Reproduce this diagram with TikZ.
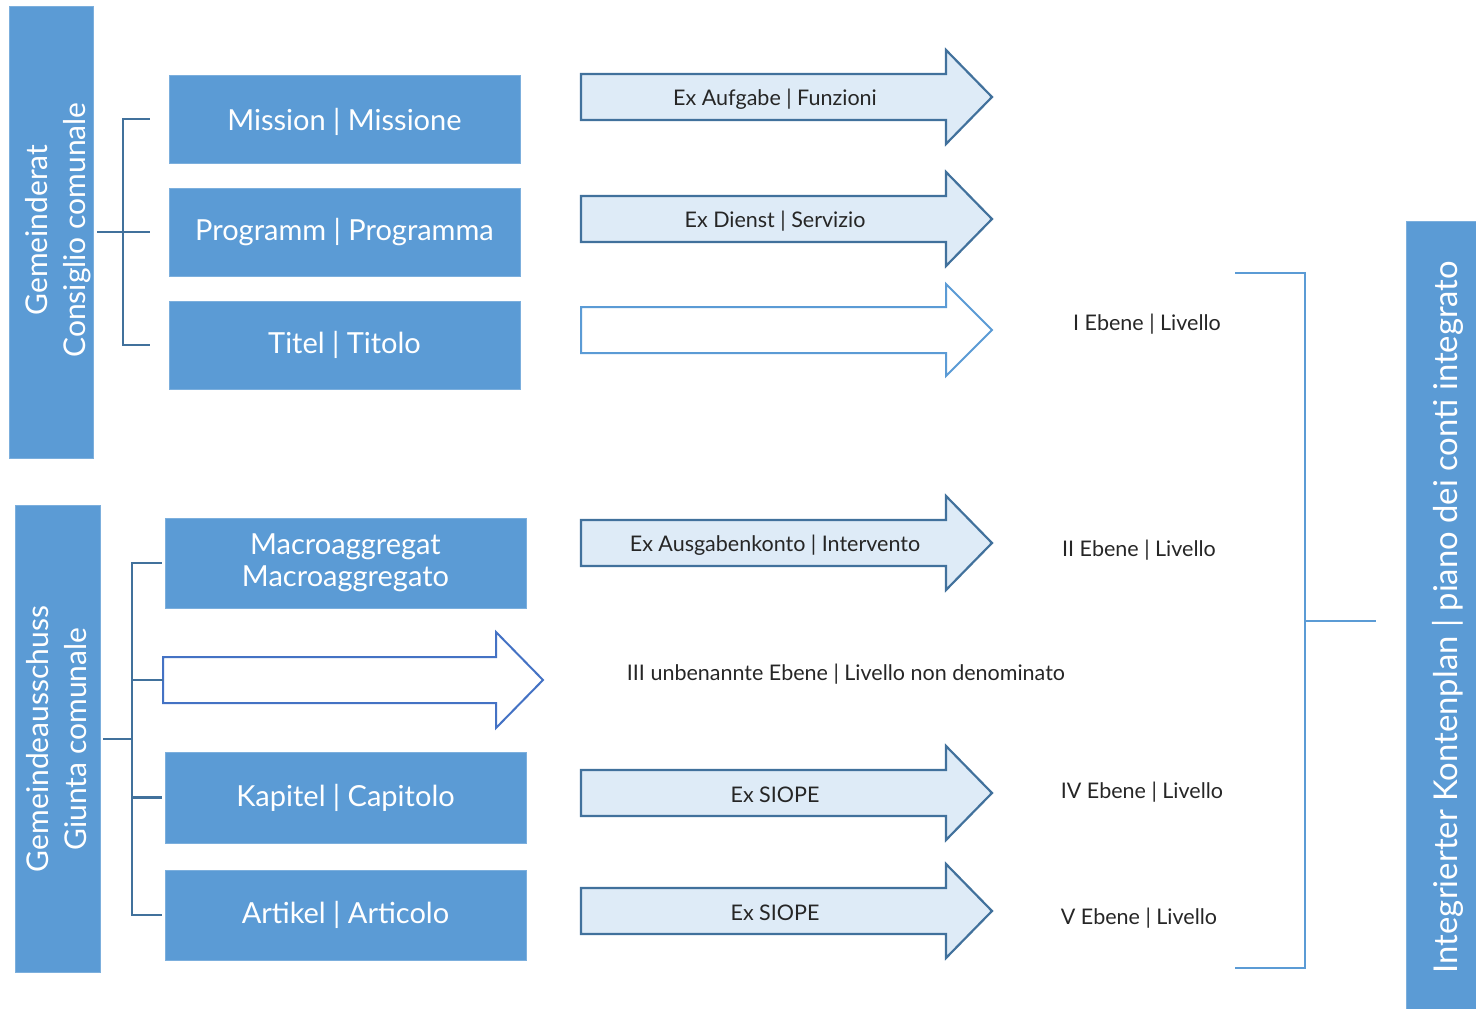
\documentclass[tikz,border=0pt]{standalone}
\usepackage{fontspec}
\setmainfont{Lato}

\definecolor{boxblue}{HTML}{5B9BD5}
\definecolor{darkline}{HTML}{41719C}
\definecolor{paleblue}{HTML}{DEEBF7}
\definecolor{lowline}{HTML}{4472C4}
\definecolor{labeltext}{HTML}{262626}

\tikzset{
  bodybox/.style={fill=boxblue, draw=boxblue!80!white},
  bodytext/.style={text=white, align=center, rotate=90, font=\fontsize{30}{38}\selectfont},
  levelbox/.style={fill=boxblue, draw=boxblue!80!white, text=white, align=center,
    font=\fontsize{29}{32}\selectfont},
  brk/.style={draw=darkline, line width=2.4pt},
  rbrk/.style={draw=boxblue, line width=1.4pt},
  exarrow/.style={fill=paleblue, draw=darkline, line width=2.2pt},
  exlabel/.style={text=labeltext, yshift=-2pt, font=\fontsize{21.5}{24}\selectfont},
  ebene/.style={text=labeltext, yshift=-2pt, font=\fontsize{21.5}{24}\selectfont}
}

\newcommand{\exarrow}[3]{%
  \draw[exarrow] (581,#2-23) -- (946,#2-23) -- (946,#2-47) -- (992,#2) -- (946,#2+47)
    -- (946,#2+23) -- (581,#2+23) -- cycle;
  \node[exlabel] (#1) at (775,#2) {#3};}

\begin{document}
\begin{tikzpicture}[x=1pt, y=-1pt]
  \useasboundingbox (0,0) rectangle (1476,1009);

  % council block
  \node[bodybox, minimum width=84pt, minimum height=452pt] (rat) at (51,232) {};
  \node[bodytext] (ratt) at (58,230) {Gemeinderat\\Consiglio comunale};
  \node[levelbox, minimum width=351pt, minimum height=88pt, text depth=-2pt] (mis) at (344.5,119) {Mission | Missione};
  \node[levelbox, minimum width=351pt, minimum height=88pt] (prg) at (344.5,232) {Programm | Programma};
  \node[levelbox, minimum width=351pt, minimum height=88pt] (tit) at (344.5,345) {Titel | Titolo};
  \coordinate (jr) at (123,232);
  \draw[brk] ([xshift=4pt]rat.east |- jr) -- (jr);
  \draw[brk] ([xshift=-19pt]mis.west) -| (jr) |- ([xshift=-19pt]tit.west);
  \draw[brk] (jr) -- ([xshift=-19pt]prg.west);

  % committee block
  \node[bodybox, minimum width=85pt, minimum height=467pt] (giu) at (57.5,738.5) {};
  \node[bodytext] (giut) at (56.5,739) {Gemeindeausschuss\\Giunta comunale};
  \node[levelbox, minimum width=361pt, minimum height=90pt] (mac) at (345.5,563) {Macroaggregat\\Macroaggregato};
  \node[levelbox, minimum width=361pt, minimum height=91pt] (kap) at (345.5,797.5) {Kapitel | Capitolo};
  \node[levelbox, minimum width=361pt, minimum height=90pt] (art) at (345.5,915) {Artikel | Articolo};
  \draw[draw=lowline, line width=2pt, fill=white] (163,657) -- (496,657) -- (496,632) -- (543,680)
    -- (496,728) -- (496,703) -- (163,703) -- cycle;
  \coordinate (gap) at (163,680);
  \coordinate (jg) at (132,739);
  \draw[brk] ([xshift=3pt]giu.east |- jg) -- (jg);
  \draw[brk] ([xshift=-3pt]mac.west) -| (jg) |- ([xshift=-3pt]art.west);
  \draw[brk] (jg |- gap) -- (gap);
  \draw[brk] (jg |- kap) -- ([xshift=-3pt]kap.west);

  % arrows
  \exarrow{aufg}{97}{Ex Aufgabe | Funzioni}
  \exarrow{dien}{219}{Ex Dienst | Servizio}
  \draw[draw=boxblue, line width=2pt, fill=white] (581,307) -- (946,307) -- (946,284) -- (992,330)
    -- (946,376) -- (946,353) -- (581,353) -- cycle;
  \exarrow{ausg}{543}{Ex Ausgabenkonto | Intervento}
  \exarrow{siopa}{793}{Ex SIOPE}
  \exarrow{siopb}{911}{Ex SIOPE}

  % levels
  \node[ebene] (lv1) at (1147,322) {I Ebene | Livello};
  \node[ebene] (lv2) at (1139,548) {II Ebene | Livello};
  \node[ebene] (lv3) at (846,672) {III unbenannte Ebene | Livello non denominato};
  \node[ebene] (lv4) at (1142,790) {IV Ebene | Livello};
  \node[ebene] (lv5) at (1139,916) {V Ebene | Livello};

  % integrated chart of accounts
  \node[bodybox, minimum width=70pt, minimum height=788pt] (pdc) at (1441,615) {};
  \node[bodytext, font=\fontsize{32.8}{36}\selectfont] (pdct) at (1448,617)
    {Integrierter Kontenplan | piano dei conti integrato};
  \coordinate (rt) at (1235,273);
  \coordinate (rb) at (1235,968);
  \coordinate (rj) at (1305,621);
  \draw[rbrk] (rt) -| (rj) |- (rb);
  \draw[rbrk] (rj) -- ([xshift=-30pt]pdc.west |- rj);
\end{tikzpicture}
\end{document}
